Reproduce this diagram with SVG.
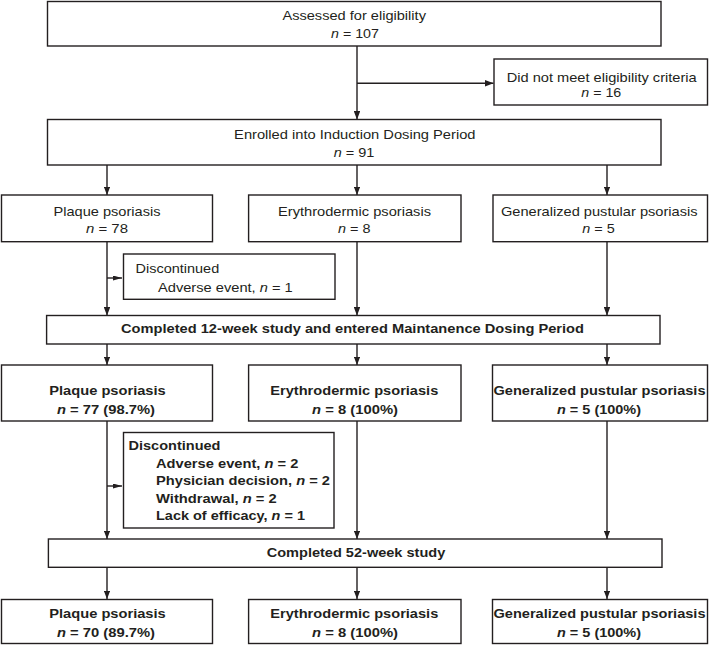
<svg xmlns="http://www.w3.org/2000/svg" width="709" height="646" viewBox="0 0 709 646">
<style>
.box{fill:#fff;stroke:#231f20;stroke-width:1.4}
.ln{fill:none;stroke:#231f20;stroke-width:1.4}
.t{font-family:"Liberation Sans",Arial,sans-serif;font-size:13px;fill:#231f20}
.m{text-anchor:middle}
.b{font-weight:bold}
.i{font-style:italic}
</style>
<defs>
<marker id="ah" viewBox="0 0 8.5 6.5" refX="8.5" refY="3.25" markerWidth="8.5" markerHeight="6.5" markerUnits="userSpaceOnUse" orient="auto"><path d="M0,0 L8.5,3.25 L0,6.5 z" fill="#231f20"/></marker>
<marker id="sh" viewBox="0 0 9 5" refX="9" refY="2.5" markerWidth="9" markerHeight="5" markerUnits="userSpaceOnUse" orient="auto"><path d="M0,0 L9,2.5 L0,5 z" fill="#231f20"/></marker>
</defs>
<rect width="709" height="646" fill="#fff"/>
<g id="connectors">
<path class="ln" d="M357,46 V119.5" marker-end="url(#ah)"/>
<path class="ln" d="M357,83.3 H493.5" marker-end="url(#ah)"/>
<path class="ln" d="M107,165 V195" marker-end="url(#ah)"/>
<path class="ln" d="M357,165 V195" marker-end="url(#ah)"/>
<path class="ln" d="M607,165 V195" marker-end="url(#ah)"/>
<path class="ln" d="M107,242 V315.5" marker-end="url(#ah)"/>
<path class="ln" d="M107,278 H122" marker-end="url(#sh)"/>
<path class="ln" d="M357,242 V315.5" marker-end="url(#ah)"/>
<path class="ln" d="M607,242 V315.5" marker-end="url(#ah)"/>
<path class="ln" d="M107,344 V365" marker-end="url(#ah)"/>
<path class="ln" d="M357,344 V365" marker-end="url(#ah)"/>
<path class="ln" d="M607,344 V365" marker-end="url(#ah)"/>
<path class="ln" d="M107,421 V539" marker-end="url(#ah)"/>
<path class="ln" d="M107,486 H122" marker-end="url(#sh)"/>
<path class="ln" d="M357,421 V539" marker-end="url(#ah)"/>
<path class="ln" d="M607,421 V539" marker-end="url(#ah)"/>
<path class="ln" d="M107,567.5 V599" marker-end="url(#ah)"/>
<path class="ln" d="M357,567.5 V599" marker-end="url(#ah)"/>
<path class="ln" d="M607,567.5 V599" marker-end="url(#ah)"/>
</g>
<g id="assessed">
<rect class="box" x="47.5" y="1.5" width="613.5" height="44.5"/>
<text class="t m" x="354.2" y="20" textLength="143.5" lengthAdjust="spacingAndGlyphs">Assessed for eligibility</text>
<text class="t m" x="355" y="37.5" textLength="48" lengthAdjust="spacingAndGlyphs"><tspan class="i">n</tspan> = 107</text>
</g>
<g id="excluded">
<rect class="box" x="494" y="59" width="213.5" height="46"/>
<text class="t m" x="601.7" y="81.5" textLength="190" lengthAdjust="spacingAndGlyphs">Did not meet eligibility criteria</text>
<text class="t m" x="601.3" y="97" textLength="40" lengthAdjust="spacingAndGlyphs"><tspan class="i">n</tspan> = 16</text>
</g>
<g id="enrolled">
<rect class="box" x="47.5" y="119.5" width="613.5" height="45.5"/>
<text class="t m" x="354.8" y="138.5" textLength="241.4" lengthAdjust="spacingAndGlyphs">Enrolled into Induction Dosing Period</text>
<text class="t m" x="354" y="156.5" textLength="40.7" lengthAdjust="spacingAndGlyphs"><tspan class="i">n</tspan> = 91</text>
</g>
<g id="plaque1">
<rect class="box" x="1.5" y="195" width="211" height="46.7"/>
<text class="t m" x="107" y="215.5" textLength="107" lengthAdjust="spacingAndGlyphs">Plaque psoriasis</text>
<text class="t m" x="107" y="233" textLength="42" lengthAdjust="spacingAndGlyphs"><tspan class="i">n</tspan> = 78</text>
</g>
<g id="erythro1">
<rect class="box" x="248.6" y="195" width="212.4" height="46.7"/>
<text class="t m" x="354.5" y="215.5" textLength="153" lengthAdjust="spacingAndGlyphs">Erythrodermic psoriasis</text>
<text class="t m" x="354.3" y="233" textLength="32.5" lengthAdjust="spacingAndGlyphs"><tspan class="i">n</tspan> = 8</text>
</g>
<g id="gpp1">
<rect class="box" x="493" y="195" width="214.5" height="46.7"/>
<text class="t m" x="599.3" y="215.5" textLength="196.6" lengthAdjust="spacingAndGlyphs">Generalized pustular psoriasis</text>
<text class="t m" x="598.5" y="233" textLength="32.5" lengthAdjust="spacingAndGlyphs"><tspan class="i">n</tspan> = 5</text>
</g>
<g id="disc1">
<rect class="box" x="123.5" y="254" width="211.5" height="45.3"/>
<text class="t" x="135.6" y="273.3" textLength="83.6" lengthAdjust="spacingAndGlyphs">Discontinued</text>
<text class="t" x="158" y="291.7" textLength="134.7" lengthAdjust="spacingAndGlyphs">Adverse event, <tspan class="i">n</tspan> = 1</text>
</g>
<g id="completed12">
<rect class="box" x="46.6" y="315.5" width="613.4" height="28.5"/>
<text class="t m b" x="352.5" y="333.3" textLength="463" lengthAdjust="spacingAndGlyphs">Completed 12-week study and entered Maintanence Dosing Period</text>
</g>
<g id="plaque2">
<rect class="box" x="1.5" y="365" width="211" height="56"/>
<text class="t m b" x="107.5" y="395" textLength="116.5" lengthAdjust="spacingAndGlyphs">Plaque psoriasis</text>
<text class="t m b" x="106" y="414" textLength="98" lengthAdjust="spacingAndGlyphs"><tspan class="i">n</tspan> = 77 (98.7%)</text>
</g>
<g id="erythro2">
<rect class="box" x="248.6" y="365" width="212.4" height="56"/>
<text class="t m b" x="354.3" y="395" textLength="168" lengthAdjust="spacingAndGlyphs">Erythrodermic psoriasis</text>
<text class="t m b" x="355" y="414" textLength="86" lengthAdjust="spacingAndGlyphs"><tspan class="i">n</tspan> = 8 (100%)</text>
</g>
<g id="gpp2">
<rect class="box" x="492.5" y="365" width="215" height="56"/>
<text class="t m b" x="599.5" y="395" textLength="212" lengthAdjust="spacingAndGlyphs">Generalized pustular psoriasis</text>
<text class="t m b" x="599" y="414" textLength="84" lengthAdjust="spacingAndGlyphs"><tspan class="i">n</tspan> = 5 (100%)</text>
</g>
<g id="disc2">
<rect class="box" x="123.5" y="432.5" width="210.5" height="95.5"/>
<text class="t b" x="128.5" y="450" textLength="92" lengthAdjust="spacingAndGlyphs">Discontinued</text>
<text class="t b" x="156" y="467.5" textLength="142.3" lengthAdjust="spacingAndGlyphs">Adverse event, <tspan class="i">n</tspan> = 2</text>
<text class="t b" x="156" y="485" textLength="174" lengthAdjust="spacingAndGlyphs">Physician decision, <tspan class="i">n</tspan> = 2</text>
<text class="t b" x="156" y="502.5" textLength="120.7" lengthAdjust="spacingAndGlyphs">Withdrawal, <tspan class="i">n</tspan> = 2</text>
<text class="t b" x="156" y="520" textLength="149" lengthAdjust="spacingAndGlyphs">Lack of efficacy, <tspan class="i">n</tspan> = 1</text>
</g>
<g id="completed52">
<rect class="box" x="48.4" y="539" width="613.6" height="28.3"/>
<text class="t m b" x="356" y="556.7" textLength="178.6" lengthAdjust="spacingAndGlyphs">Completed 52-week study</text>
</g>
<g id="plaque3">
<rect class="box" x="1.5" y="599.5" width="211" height="44"/>
<text class="t m b" x="107.5" y="618" textLength="116.5" lengthAdjust="spacingAndGlyphs">Plaque psoriasis</text>
<text class="t m b" x="106" y="636.5" textLength="98" lengthAdjust="spacingAndGlyphs"><tspan class="i">n</tspan> = 70 (89.7%)</text>
</g>
<g id="erythro3">
<rect class="box" x="248.6" y="599.5" width="212.4" height="44"/>
<text class="t m b" x="354.3" y="618" textLength="168" lengthAdjust="spacingAndGlyphs">Erythrodermic psoriasis</text>
<text class="t m b" x="355" y="636.5" textLength="86" lengthAdjust="spacingAndGlyphs"><tspan class="i">n</tspan> = 8 (100%)</text>
</g>
<g id="gpp3">
<rect class="box" x="492.5" y="599.5" width="215" height="44"/>
<text class="t m b" x="599.5" y="618" textLength="212" lengthAdjust="spacingAndGlyphs">Generalized pustular psoriasis</text>
<text class="t m b" x="599" y="636.5" textLength="84" lengthAdjust="spacingAndGlyphs"><tspan class="i">n</tspan> = 5 (100%)</text>
</g>
</svg>
